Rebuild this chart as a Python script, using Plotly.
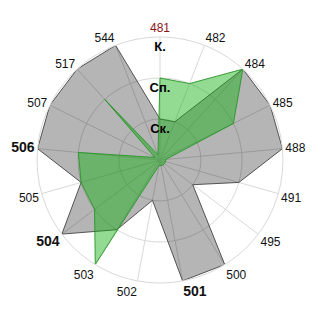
import plotly.graph_objects as go

categories = ["481", "482", "484", "485", "488", "491", "495", "500", "501",
              "502", "503", "504", "505", "506", "507", "517", "544"]
tick_labels = ["<span style='color:#8b1414'>481</span>", "482", "484", "485", "488",
               "491", "495", "500",
               "<span style='font-size:14px'><b>501</b></span>", "502", "503",
               "<span style='font-size:14px'><b>504</b></span>", "505",
               "<span style='font-size:14px'><b>506</b></span>", "507", "517", "544"]
gray_vals = [1, 1, 3, 3, 3, 2, 1, 3, 3, 1, 2, 3, 2, 3, 3, 3, 3]
green_vals = [2, 2, 3, 2, 0.14, 0.14, 0.14, 0.14, 0.14, 0.14, 3, 2, 2, 2, 0.14, 2, 0.14]
level_vals = [3, 2, 1]
level_labels = ["К.", "Сп.", "Ск."]
label_inset = 0.1


def closed(v):
    return list(v) + [v[0]]


fig = go.Figure()
fig.add_trace(go.Scatterpolar(
    r=closed(gray_vals), theta=closed(categories), mode="lines",
    fill="toself", fillcolor="rgba(0,0,0,0.29)",
    line=dict(color="rgba(60,60,60,0.85)", width=1), hoverinfo="skip"))
fig.add_trace(go.Scatterpolar(
    r=closed(green_vals), theta=closed(categories), mode="lines",
    fill="toself", fillcolor="rgba(20,175,20,0.46)",
    line=dict(color="rgba(40,150,40,0.9)", width=1), hoverinfo="skip"))
fig.add_trace(go.Scatterpolar(
    r=[v - label_inset for v in level_vals], theta=[categories[0]] * len(level_vals),
    mode="text", text=level_labels, textposition="bottom center",
    textfont=dict(family="Arial, Liberation Sans", size=13, color="#000000"),
    texttemplate="<b>%{text}</b>", hoverinfo="skip"))

fig.update_layout(
    width=320, height=320,
    margin=dict(l=37, r=37, t=37, b=37),
    paper_bgcolor="white",
    showlegend=False,
    font=dict(family="Arial, Liberation Sans", size=12, color="#111111"),
    polar=dict(
        bgcolor="white",
        domain=dict(x=[0, 1], y=[0, 1]),
        radialaxis=dict(range=[0, 3], tickvals=[1, 2, 3], showticklabels=False,
                        ticks="", showline=False, gridcolor="#d9d9d9", gridwidth=1),
        angularaxis=dict(type="category", categoryarray=categories,
                         tickvals=categories, ticktext=tick_labels,
                         direction="clockwise", rotation=90, ticks="",
                         showline=True, linecolor="#d9d9d9", linewidth=1,
                         gridcolor="#d9d9d9", gridwidth=1,
                         tickfont=dict(size=12, color="#111111")),
    ),
)
fig.write_html("out.html")
